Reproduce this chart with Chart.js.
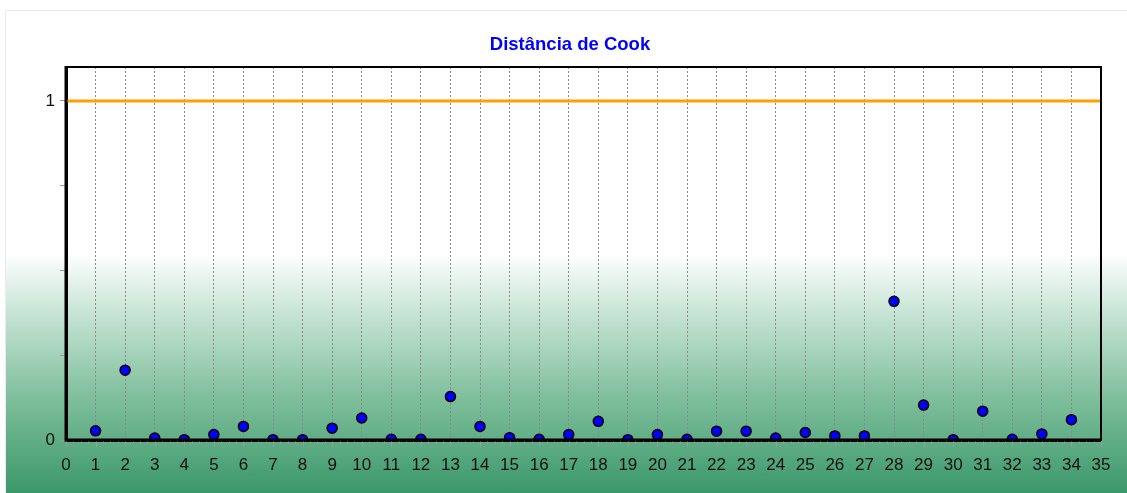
<!DOCTYPE html>
<html>
<head>
<meta charset="utf-8">
<script src="https://cdn.jsdelivr.net/npm/chart.js@4.4.1/dist/chart.umd.min.js"></script>
<style>
  body { margin: 0; background: #fff; }
  #panel {
    position: absolute; left: 5px; top: 10px; width: 1122px; height: 483px;
    border-left: 1px solid #ececec; border-top: 1px solid #ececec;
    background: linear-gradient(to bottom, #ffffff 0%, #ffffff 50%, #c9e5d7 62%, #7fbf9c 80%, #3a976a 100%);
  }
  #c { position: absolute; left: 0; top: 0; }
</style>
</head>
<body>
<div id="panel"></div>
<canvas id="c" width="1127" height="493"></canvas>
<script>
const cases = [1, 2, 3, 4, 5, 6, 7, 8, 9, 10, 11, 12, 13, 14, 15, 16, 17,
    18, 19, 20, 21, 22, 23, 24, 25, 26, 27, 28, 29, 30, 31, 32, 33, 34];
const cook = [0.027, 0.206, 0.006, 0.001, 0.016, 0.040, 0.001, 0.001, 0.035, 0.065,
    0.002, 0.002, 0.128, 0.040, 0.007, 0.002, 0.016, 0.055, 0.001, 0.016,
    0.002, 0.026, 0.026, 0.006, 0.022, 0.012, 0.012, 0.409, 0.103, 0.001,
    0.085, 0.002, 0.018, 0.060];
const limitX = [0, 35];
const limitY = [1, 1];
const yLabels = [0, 1];
const chartTitle = "Distância de Cook";

const font = "'Liberation Sans', Arial, sans-serif";

// frame, x ticks and title
const extras = {
    id: 'extras',
    afterDatasetsDraw(chart) {
        const ctx = chart.ctx;
        const a = chart.chartArea;
        const xs = chart.scales.x;
        ctx.save();
        ctx.strokeStyle = '#999';
        ctx.lineWidth = 1;
        ctx.beginPath();
        for (let v = 0; v <= 35; v += 0.25) {
            const px = Math.round(xs.getPixelForValue(v)) + 0.5;
            const len = Number.isInteger(v) ? 7 : 4;
            ctx.moveTo(px, a.bottom + 1);
            ctx.lineTo(px, a.bottom + len);
        }
        ctx.stroke();
        // top and right border
        ctx.strokeStyle = '#000';
        ctx.lineWidth = 2;
        ctx.beginPath();
        ctx.moveTo(a.left, a.top);
        ctx.lineTo(a.right, a.top);
        ctx.lineTo(a.right, a.bottom);
        ctx.stroke();
        // axes on top of the points
        ctx.lineWidth = 3;
        ctx.beginPath();
        ctx.moveTo(a.left, a.top - 1);
        ctx.lineTo(a.left, a.bottom);
        ctx.lineTo(a.right, a.bottom);
        ctx.stroke();
        // title
        ctx.fillStyle = '#0000ff';
        ctx.font = 'bold 18.5px ' + font;
        ctx.textAlign = 'center';
        ctx.textBaseline = 'middle';
        ctx.fillText(chartTitle, 570, 45);
        ctx.restore();
    }
};

new Chart(document.getElementById('c'), {
    type: 'scatter',
    data: {
        datasets: [{
            type: 'line',
            data: limitX.map((x, i) => ({ x: x, y: limitY[i] })),
            borderColor: '#ffa000',
            borderWidth: 3,
            pointRadius: 0,
            clip: 0
        }, {
            data: cases.map((c, i) => ({ x: c, y: cook[i] })),
            backgroundColor: '#0000ff',
            borderColor: '#000',
            borderWidth: 1.5,
            pointRadius: 5,
            clip: 0
        }]
    },
    options: {
        responsive: false,
        animation: false,
        devicePixelRatio: 1,
        layout: { padding: { top: 67, right: 26, left: 0, bottom: 0 } },
        plugins: {
            legend: { display: false },
            tooltip: { enabled: false }
        },
        scales: {
            x: {
                type: 'linear',
                min: 0,
                max: 35,
                afterFit: function (scale) { scale.height = 53; },
                ticks: {
                    stepSize: 1,
                    color: '#111',
                    padding: 9,
                    maxRotation: 0,
                    autoSkip: false,
                    font: { family: font, size: 17 }
                },
                grid: {
                    color: (ctx) => (ctx.tick && (ctx.tick.value === 0 || ctx.tick.value === 35)) ? 'rgba(0,0,0,0)' : '#8a8a8a',
                    tickColor: 'rgba(0,0,0,0)',
                    tickLength: 6,
                    lineWidth: 1
                },
                border: { color: '#000', width: 3, dash: [2, 2] }
            },
            y: {
                min: 0,
                max: 1.1,
                afterFit: function (scale) { scale.width = 66; },
                ticks: {
                    stepSize: 0.25,
                    includeBounds: false,
                    color: '#111',
                    padding: 5,
                    font: { family: font, size: 17 },
                    callback: (v) => yLabels.includes(v) ? String(v) : ''
                },
                grid: {
                    drawOnChartArea: false,
                    tickColor: '#999',
                    tickLength: 6
                },
                border: { color: '#000', width: 3 }
            }
        }
    },
    plugins: [extras]
});
</script>
</body>
</html>
